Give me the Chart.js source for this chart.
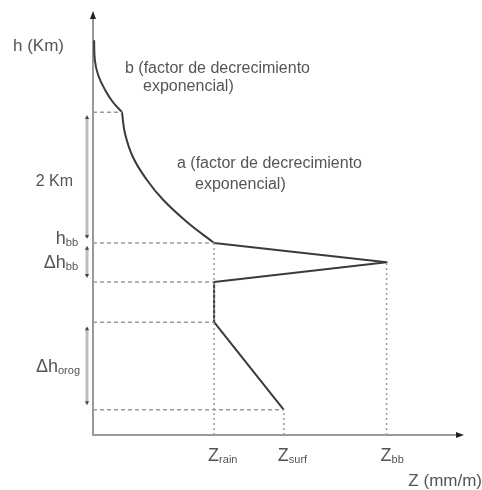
<!DOCTYPE html>
<html>
<head>
<meta charset="utf-8">
<script src="https://cdn.jsdelivr.net/npm/chart.js@4/dist/chart.umd.min.js"></script>
<style>
  html, body { margin: 0; padding: 0; background: #fff; }
  #caja { width: 482px; height: 490px; }
</style>
</head>
<body>
<div id="caja"><canvas id="perfil" width="482" height="490"></canvas></div>
<script>
// --- 1. DATOS DEL PERFIL (Z vs h) ---

// valores de Z marcados en el eje (Z_rain, Z_surf, Z_bb)
const zNombres = ['rain', 'surf', 'bb'];
const zValores = [33, 52, 80];
const zAlturas = [3.2, 0.42, 2.88]; // hasta donde sube la guia punteada

// tramo b (decrecimiento exponencial arriba)
const tramoB_Z = [0.3, 0.5, 1.4, 3.3, 5.4, 7.9];
const tramoB_h = [6.58, 6.25, 6.0, 5.75, 5.55, 5.38];

// tramo a (decrecimiento exponencial hasta la banda brillante)
const tramoA_Z = [7.9, 8.7, 10.9, 14.7, 19.1, 25.6, 33];
const tramoA_h = [5.38, 5.03, 4.63, 4.25, 3.92, 3.55, 3.2];

// tramos rectos: banda brillante, lluvia, orografia
const rectas_Z = [33, 80, 33, 33, 52];
const rectas_h = [3.2, 2.88, 2.55, 1.88, 0.42];

// guias horizontales discontinuas
const guiasH_h = [5.38, 3.2, 2.55, 1.88, 0.42];
const guiasH_Z = [7.9, 33, 33, 33, 52];

// corchetes de la izquierda [arriba, abajo]
const corchetesArriba = [5.3, 3.12, 1.78];
const corchetesAbajo = [3.3, 2.65, 0.53];

// --- 2. ARMAR DATASETS ---
const COLOR_LINEA = '#3a3a3a';
const COLOR_GUIA = '#9a9a9a';
const COLOR_TEXTO = '#555';
const FUENTE = '"Liberation Sans", Arial, sans-serif';

function puntos(xs, ys) {
    return xs.map((v, i) => ({ x: v, y: ys[i] }));
}

const datasets = [];

// guias horizontales (desde el eje h hasta la curva)
guiasH_h.forEach((h, i) => {
    datasets.push({
        data: [{ x: 0, y: h }, { x: guiasH_Z[i], y: h }],
        borderColor: COLOR_GUIA, borderWidth: 1.5, borderDash: [4, 3]
    });
});

// guias verticales punteadas (desde el eje Z)
zValores.forEach((z, i) => {
    datasets.push({
        data: [{ x: z, y: 0 }, { x: z, y: zAlturas[i] }],
        borderColor: COLOR_GUIA, borderWidth: 1.5, borderDash: [2, 3]
    });
});

datasets.push({ data: puntos(tramoB_Z, tramoB_h), borderColor: COLOR_LINEA, borderWidth: 2, tension: 0.4 });
datasets.push({ data: puntos(tramoA_Z, tramoA_h), borderColor: COLOR_LINEA, borderWidth: 2, tension: 0.4 });
datasets.push({
    data: puntos(rectas_Z, rectas_h), borderColor: COLOR_LINEA, borderWidth: 2,
    tension: 0, borderJoinStyle: 'round'
});

// --- 3. TEXTOS Y FLECHAS ---

// escribe un simbolo con subindice, x es el borde izquierdo
function conSubindice(ctx, base, sub, x, y) {
    ctx.textAlign = 'left';
    ctx.font = '18px ' + FUENTE;
    ctx.fillText(base, x, y);
    const w = ctx.measureText(base).width;
    ctx.font = '11px ' + FUENTE;
    ctx.fillText(sub, x + w, y + 2);
    return w + ctx.measureText(sub).width;
}

function anchoSub(ctx, base, sub) {
    ctx.font = '18px ' + FUENTE;
    const w = ctx.measureText(base).width;
    ctx.font = '11px ' + FUENTE;
    return w + ctx.measureText(sub).width;
}

const anotaciones = {
    id: 'anotaciones',
    afterDraw(chart) {
        const { ctx, chartArea, scales: { x, y } } = chart;
        ctx.save();

        // flechas de los ejes
        ctx.fillStyle = '#222';
        ctx.beginPath();
        ctx.moveTo(chartArea.left, chartArea.top - 4);
        ctx.lineTo(chartArea.left - 3, chartArea.top + 4);
        ctx.lineTo(chartArea.left + 3, chartArea.top + 4);
        ctx.fill();
        ctx.beginPath();
        ctx.moveTo(chartArea.right + 4, chartArea.bottom);
        ctx.lineTo(chartArea.right - 4, chartArea.bottom - 3);
        ctx.lineTo(chartArea.right - 4, chartArea.bottom + 3);
        ctx.fill();

        // corchetes
        const xc = chartArea.left - 6;
        corchetesArriba.forEach((arriba, i) => {
            const y1 = y.getPixelForValue(arriba);
            const y2 = y.getPixelForValue(corchetesAbajo[i]);
            ctx.strokeStyle = '#bdbdbd';
            ctx.lineWidth = 3;
            ctx.beginPath();
            ctx.moveTo(xc, y1);
            ctx.lineTo(xc, y2);
            ctx.stroke();
            ctx.fillStyle = '#444';
            ctx.beginPath();
            ctx.moveTo(xc, y1 - 2); ctx.lineTo(xc - 2, y1 + 2); ctx.lineTo(xc + 2, y1 + 2);
            ctx.fill();
            ctx.beginPath();
            ctx.moveTo(xc, y2 + 2); ctx.lineTo(xc - 2, y2 - 2); ctx.lineTo(xc + 2, y2 - 2);
            ctx.fill();
        });

        ctx.fillStyle = COLOR_TEXTO;
        ctx.textBaseline = 'alphabetic';

        // etiquetas del eje h
        ctx.font = '17px ' + FUENTE;
        ctx.textAlign = 'left';
        ctx.fillText('h (Km)', 13, 51);
        ctx.font = '16px ' + FUENTE;
        ctx.textAlign = 'right';
        ctx.fillText('2 Km', 73, y.getPixelForValue((corchetesArriba[0] + corchetesAbajo[0]) / 2) + 9);

        const derecha = 78;
        let yy = y.getPixelForValue(guiasH_h[1]) + 1;
        conSubindice(ctx, 'h', 'bb', derecha - anchoSub(ctx, 'h', 'bb'), yy);
        yy = y.getPixelForValue((corchetesArriba[1] + corchetesAbajo[1]) / 2) + 6;
        conSubindice(ctx, '\u0394h', 'bb', derecha - anchoSub(ctx, '\u0394h', 'bb'), yy);
        yy = y.getPixelForValue((corchetesArriba[2] + corchetesAbajo[2]) / 2) + 6;
        conSubindice(ctx, '\u0394h', 'orog', derecha + 2 - anchoSub(ctx, '\u0394h', 'orog'), yy);

        // etiquetas del eje Z
        zValores.forEach((z, i) => {
            conSubindice(ctx, 'Z', zNombres[i], x.getPixelForValue(z) - 6, chartArea.bottom + 26);
        });
        ctx.font = '17px ' + FUENTE;
        ctx.textAlign = 'right';
        ctx.fillText('Z (mm/m)', 482, 486);

        // textos de los factores
        ctx.font = '16px ' + FUENTE;
        ctx.textAlign = 'left';
        ctx.fillText('b (factor de decrecimiento', 125, 73);
        ctx.fillText('exponencial)', 143, 91);
        ctx.fillText('a (factor de decrecimiento', 177, 168);
        ctx.fillText('exponencial)', 195, 189);

        ctx.restore();
    }
};

// --- 4. GRAFICO ---
const ctx = document.getElementById('perfil').getContext('2d');
const grafico = new Chart(ctx, {
    type: 'scatter',
    data: { datasets: datasets },
    options: {
        responsive: false,
        animation: false,
        showLine: true,
        layout: { padding: { left: 93, top: 15, right: 22, bottom: 55 } },
        elements: { point: { radius: 0 } },
        plugins: { legend: { display: false }, tooltip: { enabled: false } },
        scales: {
            x: {
                min: 0, max: 100,
                ticks: { display: false },
                grid: { display: false, drawTicks: false, tickLength: 0 },
                border: { display: true, color: '#999', width: 2 }
            },
            y: {
                min: 0, max: 7,
                ticks: { display: false },
                grid: { display: false, drawTicks: false, tickLength: 0 },
                border: { display: true, color: '#999', width: 2 }
            }
        }
    },
    plugins: [anotaciones]
});
</script>
</body>
</html>
